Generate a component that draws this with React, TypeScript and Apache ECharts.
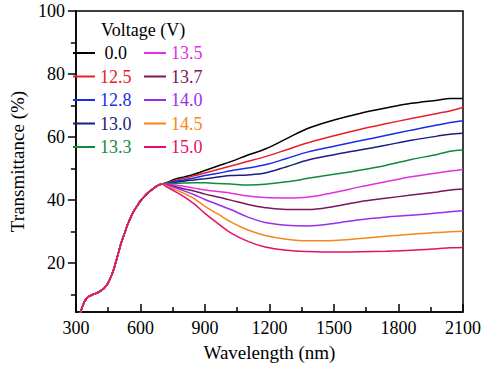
import React, { useEffect, useRef } from "react";
import * as echarts from "echarts";

const FONT = "Liberation Serif";

// Common rising part (all curves overlap)
const wlRise = [315, 322, 330, 340, 350, 362, 380, 400, 415, 430, 445, 455, 465, 475, 485, 497, 510, 526, 540, 556, 570, 587, 600, 616, 640, 661, 680, 700];
const tRise = [3.0, 4.5, 6.2, 7.8, 8.8, 9.5, 10.1, 10.6, 11.2, 12.0, 13.2, 14.5, 16.0, 17.8, 20.2, 23.1, 26.3, 29.4, 32.2, 34.7, 36.6, 38.4, 39.7, 41.0, 42.6, 43.7, 44.6, 45.1];

// Divergent part
const wlTail = [720, 760, 800, 850, 900, 960, 1020, 1100, 1180, 1280, 1380, 1500, 1620, 1740, 1860, 1980, 2040, 2100];

const voltages = ["0.0", "12.5", "12.8", "13.0", "13.3", "13.5", "13.7", "14.0", "14.5", "15.0"];
const colors = ["#000000", "#e8202a", "#1a2ee6", "#1a1f80", "#128a3c", "#e030e0", "#7a1660", "#9a2ee6", "#f5861a", "#e3106a"];

const t00 = [45.5, 46.6, 47.3, 48.2, 49.4, 50.8, 52.2, 54.3, 56.2, 59.5, 62.8, 65.4, 67.5, 69.2, 70.7, 71.7, 72.2, 72.2];
const t125 = [45.4, 46.2, 46.9, 47.7, 48.6, 49.7, 50.8, 52.3, 53.8, 56.0, 58.2, 60.4, 62.4, 64.2, 65.9, 67.5, 68.3, 69.4];
const t128 = [45.3, 45.9, 46.4, 47.0, 47.8, 48.5, 49.3, 50.2, 51.2, 53.2, 55.3, 57.1, 58.8, 60.5, 62.2, 63.8, 64.6, 65.2];
const t130 = [45.2, 45.6, 46.0, 46.4, 46.8, 47.3, 47.8, 48.0, 48.6, 50.6, 52.7, 54.4, 55.9, 57.4, 59.0, 60.3, 60.9, 61.2];
const t133 = [45.2, 45.3, 45.4, 45.5, 45.5, 45.3, 45.1, 44.8, 45.0, 45.8, 46.9, 48.2, 49.5, 51.0, 52.9, 54.5, 55.5, 55.9];
const t135 = [45.0, 44.8, 44.4, 43.8, 43.2, 42.7, 42.2, 41.3, 40.8, 40.7, 41.0, 42.4, 44.2, 45.8, 47.4, 48.6, 49.2, 49.7];
const t137 = [44.9, 44.3, 43.6, 42.9, 41.9, 41.0, 40.0, 38.6, 37.6, 37.0, 37.0, 38.0, 39.5, 40.6, 41.6, 42.6, 43.2, 43.5];
const t140 = [44.8, 44.0, 43.0, 41.7, 40.2, 38.6, 37.0, 34.6, 32.9, 32.0, 31.8, 32.6, 33.8, 34.6, 35.2, 35.9, 36.3, 36.6];
const t145 = [44.6, 43.4, 42.2, 40.5, 38.0, 35.6, 33.1, 30.5, 28.8, 27.6, 27.1, 27.2, 27.8, 28.5, 29.2, 29.7, 30.0, 30.1];
const t150 = [44.3, 42.8, 41.2, 38.8, 35.8, 32.6, 29.6, 26.9, 25.1, 24.1, 23.7, 23.5, 23.6, 23.8, 24.1, 24.6, 24.9, 25.0];

const tails = [t00, t125, t128, t130, t133, t135, t137, t140, t145, t150];

const xTicks = [300, 600, 900, 1200, 1500, 1800, 2100];
const yMajor = [20, 40, 60, 80, 100];
const yMinor = [10, 30, 50, 70, 90];

export default function App() {
  const ref = useRef<HTMLDivElement>(null);
  useEffect(() => {
    if (!ref.current) return;
    const chart = echarts.init(ref.current, null, { renderer: "svg" });
    const series = voltages.map((v, i) => ({
      name: v,
      type: "line",
      showSymbol: false,
      smooth: 0.35,
      lineStyle: { color: colors[i], width: 1.5 },
      itemStyle: { color: colors[i] },
      data: [
        ...wlRise.map((w, k) => [w, tRise[k]]),
        ...wlTail.map((w, k) => [w, tails[i][k]]),
      ],
    }));
    const legendBase = {
      orient: "vertical",
      top: 44,
      padding: 0,
      itemWidth: 22,
      itemHeight: 2,
      itemGap: 5.5,
      icon: "rect",
      selectedMode: false,
      textStyle: { fontFamily: FONT, fontSize: 18 },
      formatter: (n: string) => (n === "0.0" ? "\u00a00.0" : n),
    };
    chart.setOption({
      animation: false,
      textStyle: { fontFamily: FONT },
      title: {
        text: "Voltage (V)",
        left: 101,
        top: 21,
        padding: 0,
        textStyle: { fontFamily: FONT, fontSize: 18, fontWeight: "normal", color: "#000" },
      },
      legend: [
        { ...legendBase, left: 73, data: voltages.slice(0, 5).map((v, i) => ({ name: v, textStyle: { color: colors[i] } })) },
        { ...legendBase, left: 144, data: voltages.slice(5).map((v, i) => ({ name: v, textStyle: { color: colors[i + 5] } })) },
      ],
      grid: { left: 63, right: 22, top: 11, bottom: 56, show: true, borderColor: "#000", borderWidth: 1.5 },
      xAxis: {
        type: "value",
        min: xTicks[0],
        max: xTicks[xTicks.length - 1],
        interval: 300,
        name: "Wavelength (nm)",
        nameLocation: "middle",
        nameGap: 31,
        nameTextStyle: { fontFamily: FONT, fontSize: 19, color: "#000" },
        axisLine: { lineStyle: { color: "#000", width: 1.5 } },
        axisTick: { inside: true, length: 8, lineStyle: { color: "#000", width: 1.5 } },
        minorTick: { show: true, splitNumber: 2, length: 5, lineStyle: { color: "#000", width: 1.5 } },
        axisLabel: { fontFamily: FONT, fontSize: 18, color: "#000", margin: 7, showMinLabel: true, showMaxLabel: true, formatter: (v: number) => String(v) },
        splitLine: { show: false },
      },
      yAxis: [
        {
          type: "value",
          min: 4.5,
          max: 100,
          name: "Transmittance (%)",
          nameLocation: "middle",
          nameGap: 34,
          nameTextStyle: { fontFamily: FONT, fontSize: 19, color: "#000" },
          axisLine: { show: true, lineStyle: { color: "#000", width: 1.5 } },
          axisTick: { show: true, inside: false, length: 8, customValues: yMajor, lineStyle: { color: "#000", width: 1.5 } },
          axisLabel: { fontFamily: FONT, fontSize: 18, color: "#000", margin: 11, customValues: yMajor },
          splitLine: { show: false },
        },
        {
          type: "value",
          position: "left",
          min: 4.5,
          max: 100,
          axisLine: { show: false },
          axisTick: { show: true, inside: false, length: 5, customValues: yMinor, lineStyle: { color: "#000", width: 1.5 } },
          axisLabel: { show: false },
          splitLine: { show: false },
        },
      ],
      series,
    });
    return () => chart.dispose();
  }, []);
  return <div ref={ref} style={{ width: 485, height: 368, position: "absolute", left: 0, top: 0 }} />;
}
